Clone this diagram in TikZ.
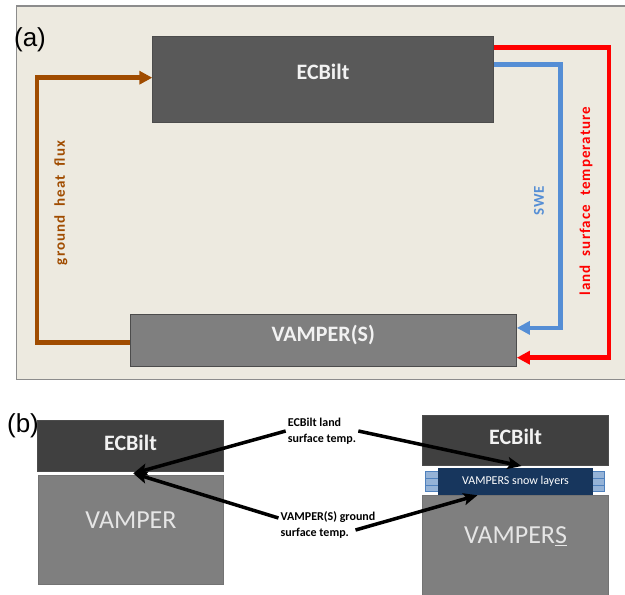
\documentclass[tikz,border=0pt]{standalone}
\usepackage{fontspec}
\setmainfont{Carlito}
\newfontfamily\panelfont{Liberation Sans}
\newfontfamily\sidefont[LetterSpace=7]{Carlito}
\usetikzlibrary{arrows.meta,calc,positioning}

\definecolor{paper}{RGB}{237,234,224}
\definecolor{framegray}{RGB}{140,140,140}
\definecolor{ecbgray}{RGB}{89,89,89}
\definecolor{ecbdark}{RGB}{64,64,64}
\definecolor{vampgray}{RGB}{127,127,127}
\definecolor{fluxbrown}{RGB}{160,76,0}
\definecolor{swebl}{RGB}{85,142,213}
\definecolor{snownavy}{RGB}{23,54,93}
\definecolor{layerbl}{RGB}{149,179,215}
\definecolor{layeredge}{RGB}{79,129,189}

\begin{document}
\begin{tikzpicture}[x=1pt,y=-1pt,
        box/.style={
            draw=black!70,
            line width=0.8pt,
            inner sep=0pt
        },
        boxtext/.style={
            text=white!95!black,
            font=\fontsize{22}{26}\selectfont\bfseries
        },
        bigtext/.style={
            text=white!90!black,
            font=\fontsize{26}{30}\selectfont
        },
        tag/.style={
            font=\panelfont\fontsize{26}{30}\selectfont
        },
        link/.style={
            line width=4.5pt,
            -{Triangle[length=13pt,width=13pt]}
        },
        feed/.style={
            line width=3.5pt,
            -{Stealth[length=14pt,width=12pt,inset=3pt]}
        },
        sidelbl/.style={
            rotate=90,
            font=\sidefont\fontsize{15}{18}\selectfont\bfseries
        },
        note/.style={
            align=left,
            inner sep=2pt,
            font=\fontsize{12}{16}\selectfont\bfseries
        }
    ]
    \useasboundingbox (0,0) rectangle (625,595);

    % panel (a)
    \draw[framegray, fill=paper, line width=1.2pt] (16.5,6) rectangle (640,379.5);
    \node[tag] (tagA) at (30,40) {(a)};

    \node[box, fill=ecbgray, minimum width=340.6pt, minimum height=85.3pt,
          label={[boxtext,yshift=8pt]center:ECBilt}]
      (ecbA) at (323,79.4) {};
    \node[box, fill=vampgray, minimum width=386.5pt, minimum height=52pt,
          label={[boxtext,yshift=5pt]center:VAMPER(S)}]
      (vampA) at (323.2,340) {};

    \coordinate (fluxin) at ($(ecbA.west)+(0,-1.7)$);
    \draw[link, fluxbrown] ($(vampA.west)+(0,2.7)$) -| ($(fluxin)+(-115.4,0)$) -- (fluxin);
    \draw[link, swebl] ($(ecbA.north east)+(0,28.3)$) -- ++(66.7,0) |- ($(vampA.north east)+(0,14.3)$);
    \draw[link, red] ($(ecbA.north east)+(0,11)$) -- ++(115.4,0) |- ($(vampA.south east)+(0,-8.7)$);

    \node[sidelbl, text=fluxbrown] (fluxlbl) at (61,203) {ground\ \ heat\ \ flux};
    \node[sidelbl, text=swebl] (swelbl) at (539,201) {SWE};
    \node[sidelbl, text=red] (templbl) at (586,201) {land\ \ surface\ \ temperature};

    % panel (b)
    \node[tag] (tagB) at (23,426) {(b)};

    \node[box, fill=ecbdark, minimum width=185.6pt, minimum height=51pt,
          label={[boxtext,yshift=3pt]center:ECBilt}]
      (ecbL) at (130.5,446.2) {};
    \node[box, draw=black!55, fill=vampgray, minimum width=184.8pt, minimum height=109.3pt,
          label={[bigtext,yshift=10pt]center:VAMPER}]
      (vampL) at (131,529.7) {};

    \node[box, fill=ecbdark, minimum width=185.6pt, minimum height=50.7pt,
          label={[boxtext,yshift=3.5pt]center:ECBilt}]
      (ecbR) at (515.5,440.3) {};
    \foreach \i in {0,1,2}
      \draw[fill=layerbl, draw=layeredge, line width=0.6pt]
        (425,471.7+\i*6.67) rectangle (604,478.37+\i*6.67);
    \node[fill=snownavy, minimum width=155.6pt, minimum height=26.7pt, inner sep=0pt,
          text=white, font=\fontsize{12}{14}\selectfont]
      (snow) at (515.5,481.7) {VAMPERS snow layers};
    \node[box, draw=black!55, fill=vampgray, minimum width=185.6pt, minimum height=110pt,
          label={[bigtext,yshift=14pt]center:VAMPER\underline{S}}]
      (vampR) at (515.5,550) {};

    \node[note] (tempnote) at (322,431) {ECBilt land\\surface temp.};
    \node[note] (gndnote) at (328,525) {VAMPER(S) ground\\surface temp.};

    \coordinate (lgap) at ($(ecbL.south)!.5!(vampL.north)+(2.5,0)$);
    \draw[feed] (tempnote.west) -- (lgap);
    \draw[feed] ([yshift=7pt]gndnote.west) -- (lgap);
    \draw[feed] (tempnote.east) -- ($(ecbR.south)+(6,0)$);
    \draw[feed] ([xshift=-22pt,yshift=-5pt]gndnote.east) -- ($(snow.south west)+(40,0)$);
\end{tikzpicture}
\end{document}
